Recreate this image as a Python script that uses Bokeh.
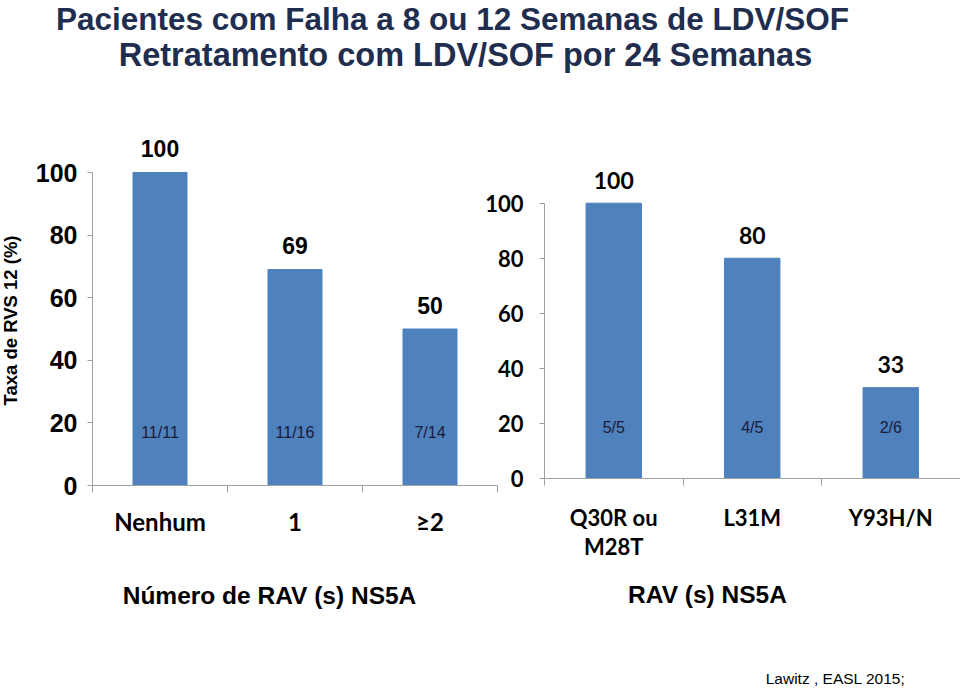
import math
from bokeh.plotting import figure
from bokeh.models import (Range1d, LinearAxis, FixedTicker, ColumnDataSource,
                          LabelSet, Label)
from bokeh.core.properties import value
from bokeh.embed import file_html
from bokeh.resources import INLINE

# ---------------- data ----------------
title_lines = ["Pacientes com Falha a 8 ou 12 Semanas de LDV/SOF",
               "Retratamento com LDV/SOF por 24 Semanas"]
left_categories = ["Nenhum", "1", "≥2"]
left_values = [100, 69, 50]
left_fractions = ["11/11", "11/16", "7/14"]
right_categories = ["Q30R ou M28T", "L31M", "Y93H/N"]
right_tick_text = ["Q30R ou\nM28T", "L31M", "Y93H/N"]
right_values = [100, 80, 33]
right_fractions = ["5/5", "4/5", "2/6"]
y_ticks = [0, 20, 40, 60, 80, 100]
y_axis_label = "Taxa de RVS 12 (%)"
left_x_label = "Número de RAV (s) NS5A"
right_x_label = "RAV (s) NS5A"
source_note = "Lawitz , EASL 2015;"

# ---------------- layout / style ----------------
W, H = 960, 688
BAR = "#4F81BD"
AXIS = "#A0A0A0"
ARIAL = "Liberation Sans"
CALIBRI = "Lato"
TITLE_COLOR = "#1F2D4E"

# pixel anchors of the two panels
L_X0, L_XU = 92, 135.0      # left: category 0 starts at px 92, 135 px per category
L_Y0, L_YU = 485, 3.13      # left: value 0 at px 485, 3.13 px per unit
R_X0, R_XU = 544, 138.5
R_Y0, R_YU = 478, 2.753


def lx(px): return (px - L_X0) / L_XU
def ly(py): return (L_Y0 - py) / L_YU
def rx(px): return (px - R_X0) / R_XU
def ry(py): return (R_Y0 - py) / R_YU


p = figure(width=W, height=H,
           x_range=Range1d(lx(0), lx(W)), y_range=Range1d(ly(H), ly(0)),
           x_axis_location=None, y_axis_location=None,
           output_backend="svg", toolbar_location=None,
           min_border=0, min_border_left=0, min_border_right=0,
           min_border_top=0, min_border_bottom=0)
p.extra_x_ranges = {"rx": Range1d(rx(0), rx(W))}
p.extra_y_ranges = {"ry": Range1d(ry(H), ry(0))}
p.outline_line_color = None
p.background_fill_color = "white"
p.border_fill_color = "white"
for g in p.grid:
    g.visible = False
    g.grid_line_color = None


def draw_panel(categories, tick_text, values, fractions, xr, yr, x_bound,
               tick_font, tick_size, tick_standoff, cat_size, cat_standoff,
               val_font, val_size, val_offset, frac_y):
    n = len(categories)
    xs = [i + 0.5 for i in range(n)]
    src = ColumnDataSource(dict(x=xs, top=values, cat=categories,
                                val=[str(v) for v in values], frac=fractions))
    p.vbar(x="x", top="top", width=0.4, source=src, fill_color=BAR,
           line_color=BAR, x_range_name=xr, y_range_name=yr)

    ya = LinearAxis(x_range_name=xr, y_range_name=yr, fixed_location=0,
                    bounds=(0, 100), ticker=FixedTicker(ticks=y_ticks))
    ya.axis_line_color = AXIS
    ya.major_tick_line_color = AXIS
    ya.major_tick_out = 5
    ya.major_tick_in = 0
    ya.minor_tick_line_color = None
    ya.major_label_text_font = tick_font
    ya.major_label_text_font_style = "bold"
    ya.major_label_text_font_size = tick_size
    ya.major_label_text_color = "black"
    ya.major_label_standoff = tick_standoff
    p.add_layout(ya, "left")

    bounds_ticks = list(range(n + 1))
    xa = LinearAxis(x_range_name=xr, y_range_name=yr, fixed_location=0,
                    bounds=(0, x_bound), ticker=FixedTicker(ticks=bounds_ticks),
                    major_label_overrides={t: "" for t in bounds_ticks})
    xa.major_label_text_font_size = "1px"
    xa.major_label_standoff = 0
    xa.axis_line_color = AXIS
    xa.major_tick_line_color = AXIS
    xa.major_tick_out = 7
    xa.major_tick_in = 0
    xa.minor_tick_line_color = None
    p.add_layout(xa, "below")

    ca = LinearAxis(x_range_name=xr, y_range_name=yr, fixed_location=0,
                    ticker=FixedTicker(ticks=xs),
                    major_label_overrides=dict(zip(xs, tick_text)))
    ca.axis_line_color = None
    ca.major_tick_line_color = None
    ca.minor_tick_line_color = None
    ca.major_label_text_font = CALIBRI
    ca.major_label_text_font_style = "bold"
    ca.major_label_text_font_size = cat_size
    ca.major_label_text_color = "black"
    ca.major_label_text_line_height = 1.1
    ca.major_label_standoff = cat_standoff
    p.add_layout(ca, "below")

    p.add_layout(LabelSet(x="x", y="top", text="val", source=src,
                          x_range_name=xr, y_range_name=yr,
                          y_offset=val_offset, text_align="center",
                          text_baseline="middle", text_font=value(val_font),
                          text_font_style="bold", text_font_size=val_size,
                          text_color="black"))
    p.add_layout(LabelSet(x="x", y=frac_y, text="frac", source=src,
                          x_range_name=xr, y_range_name=yr,
                          text_align="center", text_baseline="middle",
                          text_font=value(ARIAL), text_font_size="16px",
                          text_color="#1a1a3a"))


draw_panel(left_categories, left_categories, left_values, left_fractions,
           "default", "default", 3, ARIAL, "25px", 10, "24px", 15,
           ARIAL, "23px", 24, 17)
draw_panel(right_categories, right_tick_text, right_values, right_fractions,
           "rx", "ry", rx(W), CALIBRI, "22px", 16, "22px", 19,
           CALIBRI, "23px", 23, 18.5)


def label(text, px, py, size, bold=True, color="black", angle=0.0,
          align="center"):
    p.add_layout(Label(x=lx(px), y=ly(py), text=text, angle=angle,
                       text_align=align, text_baseline="middle",
                       text_font=ARIAL,
                       text_font_style="bold" if bold else "normal",
                       text_font_size=size, text_color=color))


label(title_lines[0], 452, 18, "31.5px", color=TITLE_COLOR)
label(title_lines[1], 465, 54, "32.5px", color=TITLE_COLOR)
label(y_axis_label, 10, 320, "18.5px", angle=math.pi / 2)
label(left_x_label, 269, 595, "24.5px")
label(right_x_label, 707, 594, "24.5px")
label(source_note, 835, 678, "15.5px", bold=False)

with open("out.html", "w") as f:
    f.write(file_html(p, INLINE))
